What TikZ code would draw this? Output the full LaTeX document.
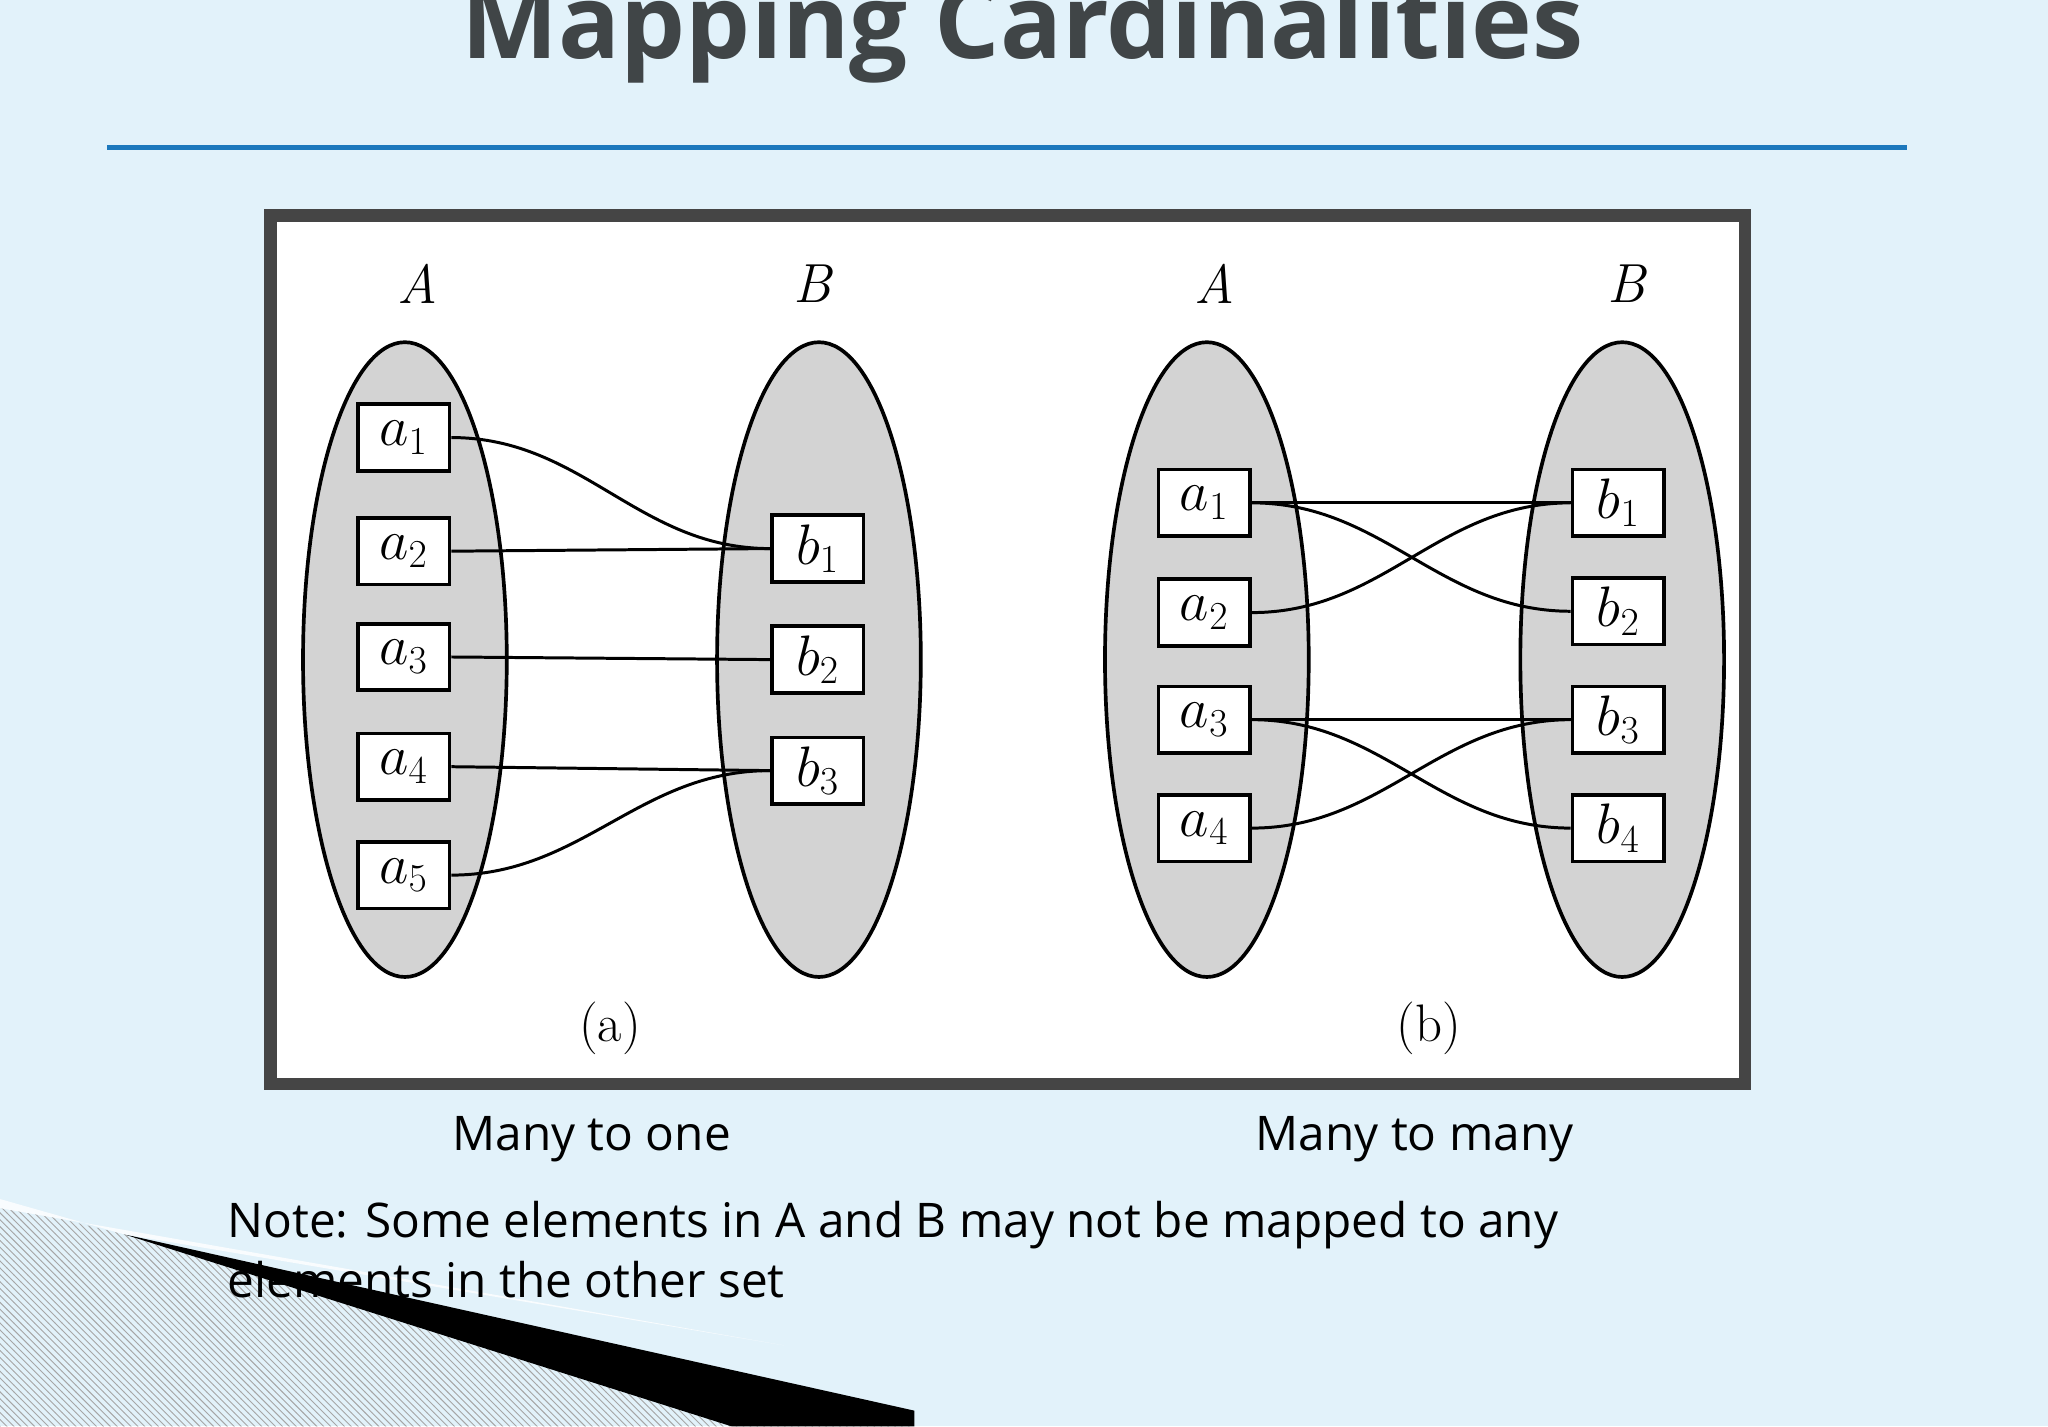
\documentclass[tikz,border=0pt]{standalone}
\usepackage{fontspec}
\setsansfont{Open Sans}
\usetikzlibrary{patterns}
\definecolor{bgc}{HTML}{E2F2FA}
\definecolor{ttl}{HTML}{404547}
\definecolor{rule}{HTML}{1C78BC}
\definecolor{elc}{HTML}{D3D3D3}
\definecolor{frm}{HTML}{454545}
\tikzset{
 el/.style={draw=black,line width=1.6pt,fill=elc},
 bx/.style={draw=black,line width=1.6pt,fill=white,minimum width=40pt,minimum height=29pt,inner sep=0pt,font=\fontsize{25}{25}\selectfont},
 cn/.style={line width=1.3pt},
 setl/.style={font=\fontsize{24}{24}\selectfont\itshape},
 captxt/.style={font=\fontsize{23}{23}\selectfont},
 slide/.style={font=\sffamily\fontsize{20.8}{20.8}\selectfont,text=black}
}
\begin{document}
\begin{tikzpicture}[x=0.02cm,y=-0.02cm]
\fill[bgc] (0,0) rectangle (1568,1092);
\useasboundingbox (0,0) rectangle (1568,1092);
% decoration
\fill[pattern=north west lines,pattern color=gray!70] (0,922) -- (95,945) -- (700,1092) -- (0,1092) -- cycle;
\fill[black] (95,945) -- (700,1080) -- (700,1092) -- (560,1092) -- cycle;
\fill[white!80!bgc] (0,918) -- (95,945) -- (600,1030) -- (0,925) -- cycle;
\node[font=\sffamily\bfseries\fontsize{44.8}{44.8}\selectfont,text=ttl] (title) at (783,24) {Mapping Cardinalities};
\draw[rule,line width=2.2pt] (82,113) -- (1460,113);
\draw[frm,line width=5.5pt,fill=white] (207,165) rectangle (1336,830);
% panel a
\draw[el] (310,505) ellipse [x radius=78,y radius=243];
\draw[el] (627,505) ellipse [x radius=78,y radius=243];
\node[setl] (LA) at (320,217) {A};
\node[setl] (LB) at (622,217) {B};
\foreach \i/\y in {1/335,2/422,3/503,4/587,5/670}{\node[bx] (pa\i) at (309,\y) {$a_{\i}$};}
\foreach \i/\y in {1/420,2/505,3/590}{\node[bx] (pb\i) at (626,\y) {$b_{\i}$};}
\draw[cn] (pa1.east) to[out=0,in=180] (pb1.west);
\draw[cn] (pa2.east) -- (pb1.west);
\draw[cn] (pa3.east) -- (pb2.west);
\draw[cn] (pa4.east) -- (pb3.west);
\draw[cn] (pa5.east) to[out=0,in=180] (pb3.west);
\node[captxt] (capa) at (467,787) {(a)};
% panel b
\draw[el] (924,505) ellipse [x radius=78,y radius=243];
\draw[el] (1242,505) ellipse [x radius=78,y radius=243];
\node[setl] (LA2) at (930,217) {A};
\node[setl] (LB2) at (1245,217) {B};
\foreach \i/\y in {1/385,2/469,3/551,4/634}{\node[bx] (qa\i) at (922,\y) {$a_{\i}$};}
\foreach \i/\y in {1/385,2/468,3/551,4/634}{\node[bx] (qb\i) at (1239,\y) {$b_{\i}$};}
\draw[cn] (qa1.east) -- (qb1.west);
\draw[cn] (qa1.east) to[out=0,in=180] (qb2.west);
\draw[cn] (qa2.east) to[out=0,in=180] (qb1.west);
\draw[cn] (qa3.east) -- (qb3.west);
\draw[cn] (qa3.east) to[out=0,in=180] (qb4.west);
\draw[cn] (qa4.east) to[out=0,in=180] (qb3.west);
\node[captxt] (capb) at (1094,787) {(b)};
% slide text
\node[slide] (m1) at (453,872) {Many to one};
\node[slide] (m2) at (1083,872) {Many to many};
\node[slide,anchor=west] (note1) at (168,938) {Note: Some elements in A and B may not be mapped to any};
\node[slide,anchor=west] (note2) at (168,980) {elements in the other set};
\end{tikzpicture}
\end{document}
